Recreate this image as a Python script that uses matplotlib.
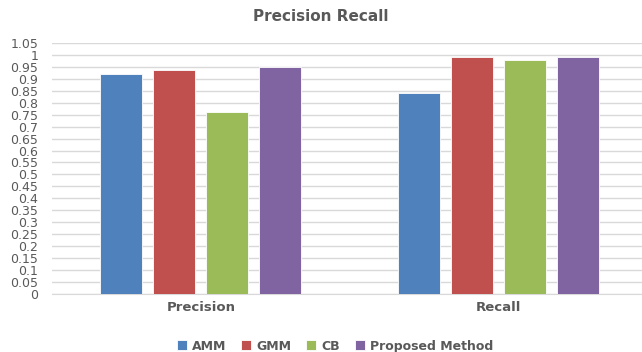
import matplotlib.pyplot as plt
import numpy as np

categories = ["Precision", "Recall"]
methods = ["AMM", "GMM", "CB", "Proposed Method"]
values = {
    "AMM": [0.92, 0.84],
    "GMM": [0.935, 0.99],
    "CB": [0.76, 0.98],
    "Proposed Method": [0.95, 0.99],
}
colors = ["#4F81BD", "#C0504D", "#9BBB59", "#8064A2"]
yticks = np.arange(0, 1.0501, 0.05)

fig = plt.figure(figsize=(6.42, 3.52), dpi=100)
ax = fig.add_axes([0.081, 0.165, 0.927, 0.713])

x = np.arange(len(categories))
w = 0.141
step = 0.178
for i, (name, c) in enumerate(zip(methods, colors)):
    off = (i - 1.5) * step
    ax.bar(x + off, values[name], width=w, color=c, edgecolor="white",
           linewidth=0.6, label=name, zorder=3)

ax.set_xlim(-0.5, 1.5)
ax.set_ylim(0, 1.05)
ax.set_yticks(yticks)
ax.set_yticklabels([f"{t:g}" for t in yticks], fontsize=9, color="#595959")
ax.set_xticks(x)
ax.set_xticklabels(categories, fontsize=9.5, fontweight="bold", color="#595959")
ax.tick_params(axis="y", length=0, pad=10)
ax.tick_params(axis="x", length=0, pad=5)
ax.grid(axis="y", color="#d9d9d9", linewidth=1, zorder=0)
for s in ["top", "right", "left"]:
    ax.spines[s].set_visible(False)
ax.spines["bottom"].set_color("#d9d9d9")

fig.text(0.5, 0.952, "Precision Recall", ha="center", va="center",
         fontsize=11, fontweight="bold", color="#595959")

fig.legend(loc="center", bbox_to_anchor=(0.522, 0.017), ncol=4, frameon=False,
           prop={"size": 9, "weight": "bold"}, handlelength=0.8,
           handleheight=0.8, columnspacing=1.2, handletextpad=0.4,
           labelcolor="#595959")

fig.savefig("out.png", dpi=100)
